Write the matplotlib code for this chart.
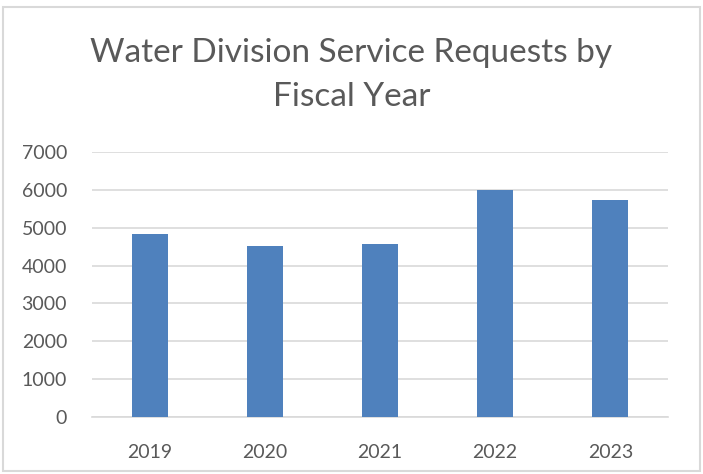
import matplotlib
matplotlib.use("Agg")
import matplotlib.pyplot as plt
from matplotlib.patches import Rectangle

years = ["2019", "2020", "2021", "2022", "2023"]
requests = [4847, 4511, 4556, 6000, 5728]
y_ticks = [0, 1000, 2000, 3000, 4000, 5000, 6000, 7000]
title = "Water Division Service Requests by\nFiscal Year"

BAR = "#4F81BD"
GRID = "#D9D9D9"
TEXT = "#595959"

plt.rcParams["font.family"] = ["Lato", "DejaVu Sans"]

fig = plt.figure(figsize=(7.03, 4.74), dpi=100)
fig.patch.set_facecolor("white")
# outer chart border
fig.patches.append(Rectangle((3 / 703, 3 / 474), 697 / 703, 464 / 474,
                             transform=fig.transFigure, fill=False,
                             edgecolor=GRID, linewidth=1.5))

ax = fig.add_axes([0.131, 0.121, 0.819, 0.558])
x = range(len(years))
ax.bar(x, requests, width=0.31, color=BAR, zorder=3)
ax.set_xlim(-0.5, len(years) - 0.5)
ax.set_ylim(0, 7000)
ax.set_yticks(y_ticks)
ax.set_xticks(list(x))
ax.set_xticklabels(years)
ax.yaxis.grid(True, color=GRID, linewidth=1.2, zorder=0)
ax.set_axisbelow(True)
for side in ["top", "right", "left"]:
    ax.spines[side].set_visible(False)
ax.spines["bottom"].set_color(GRID)
ax.spines["bottom"].set_linewidth(1.2)
ax.tick_params(axis="both", length=0, labelsize=14, colors=TEXT)
ax.tick_params(axis="x", pad=20)
ax.tick_params(axis="y", pad=18)

fig.text(0.5, 0.842, title, ha="center", va="center", fontsize=24,
         color=TEXT, linespacing=1.6)

fig.savefig("out.png", dpi=100, facecolor="white")
